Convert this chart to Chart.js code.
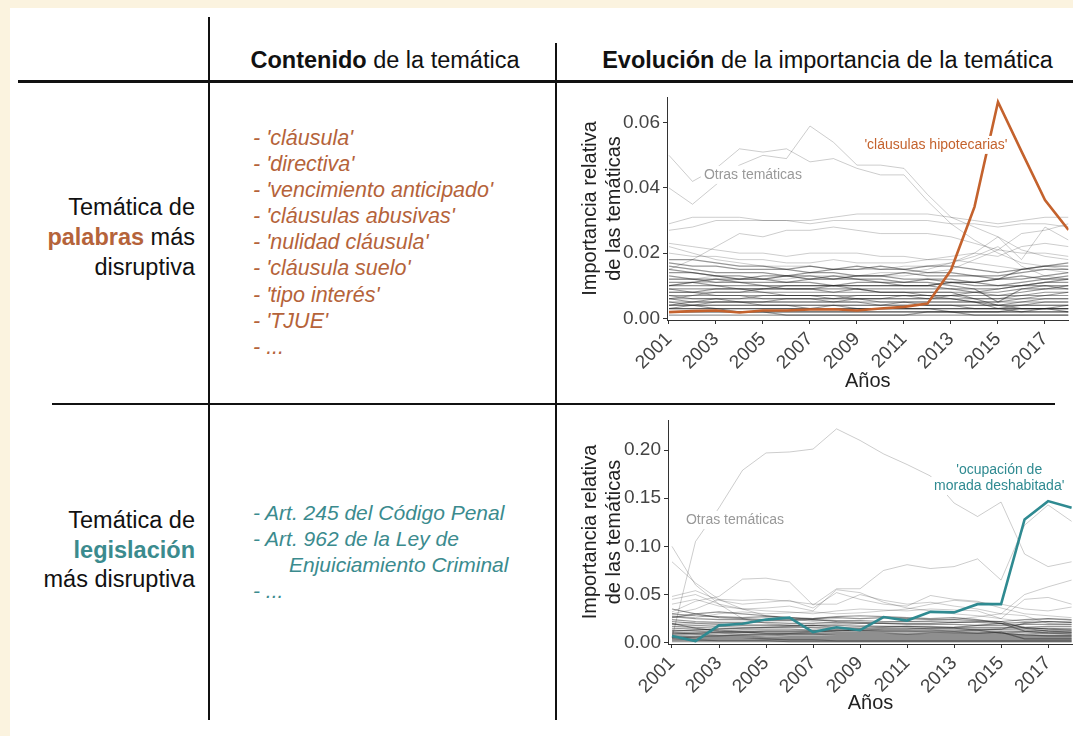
<!DOCTYPE html>
<html><head><meta charset="utf-8">
<script src="https://cdn.jsdelivr.net/npm/chart.js@4.4.1/dist/chart.umd.min.js"></script>
<style>
html,body{margin:0;padding:0;}
body{width:1073px;height:736px;background:#fbf3df;position:relative;overflow:hidden;font-family:"Liberation Sans",Arial,sans-serif;color:#111;}
#panel{position:absolute;left:10px;top:8px;right:0;bottom:0;background:#fff;}
.abs{position:absolute;white-space:nowrap;}
.line{position:absolute;background:#111;}
.hdr{font-size:23.5px;top:44px;line-height:32px;}
.rowlab{font-size:23.5px;line-height:30px;text-align:right;right:878px;}
.list{font-size:21px;font-style:italic;left:253px;}
.orange{color:#b5633a;}
.teal{color:#3b8b8e;}
canvas{position:absolute;}
</style>
</head><body>
<div id="panel"></div>
<div class="line" style="left:208px;top:17px;width:2px;height:703px;"></div>
<div class="line" style="left:555px;top:43px;width:1.5px;height:677px;"></div>
<div class="line" style="left:18px;top:80px;width:1055px;height:3px;"></div>
<div class="line" style="left:52px;top:403px;width:1003px;height:2px;"></div>

<div class="abs hdr" style="left:212px;width:346px;text-align:center;"><b>Contenido</b> de la temática</div>
<div class="abs hdr" style="left:586px;width:483px;text-align:center;"><b>Evolución</b> de la importancia de la temática</div>

<div class="abs rowlab" style="top:192px;">Temática de<br><b class="orange">palabras</b> más<br>disruptiva</div>
<div class="abs rowlab" style="top:506px;line-height:29.5px;">Temática de<br><b class="teal">legislación</b><br>más disruptiva</div>

<div class="abs list orange" style="top:125px;line-height:26.1px;font-size:21.5px;">
- 'cláusula'<br>- 'directiva'<br>- 'vencimiento anticipado'<br>- 'cláusulas abusivas'<br>- 'nulidad cláusula'<br>- 'cláusula suelo'<br>- 'tipo interés'<br>- 'TJUE'<br>- ...
</div>
<div class="abs list teal" style="top:500px;line-height:26px;">
- Art. 245 del Código Penal<br>- Art. 962 de la Ley de<br><span style="padding-left:36px">Enjuiciamiento Criminal</span><br>- ...
</div>

<canvas id="c1" width="513" height="310" style="left:560px;top:90px;"></canvas>
<canvas id="c2" width="513" height="326" style="left:560px;top:410px;"></canvas>

<script>
// ---------- DATA ----------
const years = [2001,2002,2003,2004,2005,2006,2007,2008,2009,2010,2011,2012,2013,2014,2015,2016,2017,2018];
const xTickYears = [2001,2003,2005,2007,2009,2011,2013,2015,2017];
const yTicksPalabras = [0.00,0.02,0.04,0.06];
const yTicksLegislacion = [0.00,0.05,0.10,0.15,0.20];

const clausulasHipotecarias = [0.0019,0.0022,0.0024,0.0018,0.0024,0.0024,0.0027,0.0028,0.0024,0.0030,0.0035,0.0045,0.0148,0.0342,0.0664,0.0512,0.0363,0.0271];
const ocupacionMorada = [0.0069,0.0017,0.018,0.0197,0.024,0.026,0.011,0.016,0.013,0.0266,0.023,0.032,0.0315,0.040,0.040,0.128,0.147,0.140];

// other topics (words) – sparse, higher lines
const otrasPalabrasAltas = [
 [0.050,0.042,0.046,0.052,0.051,0.052,0.048,0.049,0.046,0.044,0.044,0.036,0.029,0.024,0.020,0.017,0.016,0.015],
 [0.040,0.035,0.041,0.047,0.050,0.049,0.059,0.054,0.047,0.047,0.046,0.038,0.031,0.028,0.025,0.021,0.019,0.018],
 [0.029,0.031,0.031,0.031,0.030,0.030,0.030,0.031,0.032,0.032,0.032,0.032,0.031,0.030,0.029,0.030,0.031,0.031],
 [0.027,0.028,0.030,0.030,0.030,0.030,0.029,0.030,0.030,0.030,0.030,0.030,0.029,0.029,0.028,0.029,0.029,0.028],
 [0.015,0.018,0.022,0.026,0.025,0.027,0.027,0.028,0.027,0.026,0.026,0.026,0.025,0.023,0.021,0.020,0.020,0.019],
 [0.023,0.022,0.021,0.020,0.020,0.019,0.020,0.020,0.020,0.019,0.019,0.018,0.018,0.017,0.016,0.015,0.015,0.014],
 [0.010,0.011,0.011,0.012,0.012,0.012,0.013,0.013,0.013,0.014,0.014,0.015,0.017,0.020,0.025,0.018,0.028,0.024],
 [0.012,0.012,0.013,0.012,0.012,0.013,0.012,0.012,0.013,0.013,0.013,0.014,0.015,0.018,0.021,0.026,0.027,0.029],
 [0.020,0.019,0.019,0.018,0.018,0.017,0.017,0.018,0.017,0.017,0.017,0.018,0.019,0.020,0.019,0.022,0.023,0.022],
 [0.022,0.020,0.018,0.017,0.016,0.016,0.016,0.015,0.015,0.015,0.016,0.016,0.017,0.019,0.022,0.016,0.013,0.012]
];
// other topics (words) – dense bundle
const otrasPalabrasBajas = [
 [0.018,0.018,0.017,0.016,0.016,0.015,0.016,0.015,0.016,0.015,0.015,0.016,0.016,0.015,0.014,0.015,0.016,0.016],
 [0.017,0.016,0.016,0.015,0.015,0.015,0.014,0.015,0.015,0.016,0.015,0.014,0.014,0.013,0.013,0.014,0.015,0.015],
 [0.016,0.015,0.014,0.014,0.014,0.013,0.014,0.014,0.013,0.013,0.014,0.013,0.013,0.013,0.012,0.012,0.013,0.014],
 [0.015,0.014,0.013,0.013,0.012,0.013,0.013,0.012,0.013,0.013,0.012,0.012,0.012,0.011,0.012,0.013,0.012,0.013],
 [0.014,0.014,0.013,0.012,0.012,0.011,0.012,0.012,0.012,0.011,0.011,0.012,0.011,0.011,0.010,0.011,0.012,0.012],
 [0.013,0.012,0.012,0.011,0.011,0.011,0.011,0.010,0.011,0.011,0.010,0.010,0.011,0.010,0.010,0.010,0.011,0.011],
 [0.012,0.012,0.011,0.011,0.010,0.010,0.010,0.010,0.010,0.010,0.010,0.010,0.009,0.009,0.009,0.010,0.010,0.010],
 [0.011,0.011,0.010,0.010,0.010,0.009,0.009,0.010,0.009,0.009,0.009,0.009,0.009,0.008,0.008,0.009,0.009,0.010],
 [0.010,0.010,0.010,0.009,0.009,0.009,0.009,0.008,0.009,0.008,0.008,0.008,0.008,0.008,0.007,0.008,0.009,0.009],
 [0.009,0.009,0.009,0.009,0.008,0.008,0.008,0.008,0.008,0.008,0.008,0.007,0.007,0.007,0.007,0.007,0.008,0.008],
 [0.009,0.008,0.008,0.008,0.008,0.007,0.007,0.007,0.007,0.007,0.007,0.007,0.007,0.006,0.006,0.007,0.007,0.008],
 [0.008,0.008,0.007,0.007,0.007,0.007,0.007,0.007,0.006,0.006,0.007,0.006,0.006,0.006,0.006,0.006,0.007,0.007],
 [0.007,0.007,0.007,0.007,0.006,0.006,0.006,0.006,0.006,0.006,0.006,0.006,0.006,0.005,0.005,0.006,0.006,0.006],
 [0.007,0.006,0.006,0.006,0.006,0.006,0.006,0.005,0.006,0.005,0.005,0.005,0.005,0.005,0.005,0.005,0.006,0.006],
 [0.006,0.006,0.006,0.005,0.005,0.005,0.005,0.005,0.005,0.005,0.005,0.005,0.005,0.005,0.004,0.005,0.005,0.005],
 [0.006,0.005,0.005,0.005,0.005,0.005,0.005,0.005,0.005,0.004,0.005,0.004,0.004,0.004,0.004,0.004,0.005,0.005],
 [0.005,0.005,0.005,0.005,0.004,0.004,0.004,0.004,0.004,0.004,0.004,0.004,0.004,0.004,0.004,0.004,0.004,0.004],
 [0.005,0.004,0.004,0.004,0.004,0.004,0.004,0.004,0.004,0.004,0.004,0.004,0.004,0.003,0.003,0.004,0.004,0.004],
 [0.004,0.004,0.004,0.004,0.004,0.004,0.003,0.004,0.003,0.003,0.003,0.003,0.003,0.003,0.003,0.003,0.003,0.004],
 [0.004,0.004,0.003,0.003,0.003,0.003,0.003,0.003,0.003,0.003,0.003,0.003,0.003,0.003,0.003,0.003,0.003,0.003],
 [0.003,0.003,0.003,0.003,0.003,0.003,0.003,0.003,0.003,0.003,0.003,0.003,0.002,0.002,0.002,0.003,0.003,0.003],
 [0.003,0.003,0.003,0.002,0.002,0.002,0.002,0.002,0.002,0.002,0.002,0.002,0.002,0.002,0.002,0.002,0.002,0.002],
 [0.002,0.002,0.002,0.002,0.002,0.002,0.002,0.002,0.002,0.002,0.002,0.002,0.002,0.002,0.002,0.002,0.002,0.002],
 [0.002,0.002,0.002,0.002,0.002,0.001,0.001,0.001,0.001,0.001,0.001,0.002,0.002,0.001,0.001,0.001,0.001,0.001],
 [0.001,0.001,0.001,0.001,0.001,0.001,0.001,0.001,0.001,0.001,0.001,0.001,0.001,0.001,0.001,0.001,0.001,0.001],
 [0.010,0.011,0.012,0.012,0.013,0.013,0.012,0.013,0.012,0.012,0.011,0.011,0.010,0.009,0.005,0.009,0.010,0.009],
 [0.003,0.004,0.005,0.005,0.005,0.006,0.006,0.006,0.006,0.006,0.006,0.006,0.007,0.008,0.009,0.010,0.011,0.012],
 [0.006,0.007,0.008,0.008,0.009,0.009,0.009,0.009,0.009,0.008,0.008,0.008,0.008,0.006,0.004,0.003,0.003,0.003],
 [0.004,0.005,0.006,0.006,0.007,0.007,0.007,0.006,0.007,0.007,0.007,0.007,0.006,0.005,0.003,0.002,0.003,0.002],
 [0.008,0.008,0.009,0.009,0.009,0.010,0.010,0.010,0.010,0.010,0.010,0.010,0.011,0.011,0.012,0.015,0.016,0.017]
];

// other topics (legislation) – sparse, higher lines
const otrasLeyesAltas = [
 [0.005,0.105,0.140,0.179,0.197,0.198,0.201,0.222,0.210,0.196,0.185,0.173,0.145,0.131,0.146,0.092,0.079,0.084],
 [0.032,0.043,0.048,0.066,0.067,0.063,0.039,0.056,0.056,0.075,0.081,0.077,0.079,0.087,0.065,0.122,0.143,0.126],
 [0.100,0.060,0.040,0.025,0.020,0.018,0.015,0.014,0.013,0.012,0.012,0.011,0.010,0.010,0.011,0.012,0.012,0.011],
 [0.084,0.062,0.045,0.035,0.028,0.025,0.022,0.020,0.018,0.017,0.016,0.015,0.015,0.014,0.014,0.015,0.015,0.014],
 [0.020,0.021,0.020,0.019,0.019,0.018,0.018,0.019,0.020,0.021,0.022,0.023,0.024,0.027,0.030,0.050,0.058,0.065],
 [0.045,0.050,0.040,0.035,0.033,0.032,0.030,0.033,0.035,0.034,0.033,0.035,0.034,0.033,0.025,0.045,0.047,0.040],
 [0.048,0.054,0.044,0.040,0.042,0.044,0.036,0.052,0.045,0.040,0.038,0.049,0.045,0.043,0.036,0.030,0.028,0.026],
 [0.030,0.035,0.045,0.044,0.045,0.043,0.040,0.040,0.050,0.044,0.040,0.042,0.038,0.035,0.030,0.028,0.020,0.019],
 [0.040,0.045,0.038,0.035,0.036,0.038,0.033,0.055,0.052,0.042,0.036,0.033,0.030,0.028,0.025,0.022,0.025,0.023],
 [0.028,0.026,0.030,0.032,0.030,0.031,0.032,0.030,0.031,0.033,0.035,0.040,0.044,0.042,0.040,0.035,0.033,0.037]
];
// other topics (legislation) – dense bundle
const otrasLeyesBajas = [
 [0.030,0.028,0.027,0.026,0.027,0.026,0.025,0.026,0.025,0.026,0.025,0.024,0.024,0.023,0.022,0.024,0.025,0.024],
 [0.027,0.025,0.024,0.024,0.023,0.023,0.024,0.023,0.023,0.022,0.022,0.022,0.021,0.021,0.020,0.021,0.022,0.021],
 [0.024,0.022,0.021,0.021,0.021,0.020,0.020,0.021,0.020,0.020,0.019,0.019,0.019,0.018,0.018,0.019,0.019,0.019],
 [0.022,0.020,0.019,0.018,0.018,0.018,0.018,0.018,0.017,0.017,0.017,0.017,0.016,0.016,0.016,0.016,0.017,0.017],
 [0.019,0.018,0.017,0.016,0.016,0.016,0.016,0.015,0.015,0.015,0.015,0.014,0.014,0.014,0.014,0.014,0.015,0.015],
 [0.017,0.016,0.015,0.014,0.014,0.014,0.013,0.013,0.013,0.013,0.013,0.013,0.012,0.012,0.012,0.012,0.013,0.013],
 [0.015,0.014,0.013,0.012,0.012,0.012,0.012,0.011,0.011,0.011,0.011,0.011,0.011,0.010,0.010,0.011,0.011,0.011],
 [0.013,0.012,0.011,0.011,0.010,0.010,0.010,0.010,0.010,0.010,0.009,0.009,0.009,0.009,0.009,0.009,0.010,0.010],
 [0.011,0.010,0.010,0.009,0.009,0.009,0.009,0.008,0.008,0.008,0.008,0.008,0.008,0.008,0.008,0.008,0.008,0.008],
 [0.010,0.009,0.008,0.008,0.008,0.007,0.007,0.007,0.007,0.007,0.007,0.007,0.007,0.007,0.007,0.007,0.007,0.007],
 [0.008,0.008,0.007,0.007,0.006,0.006,0.006,0.006,0.006,0.006,0.006,0.006,0.006,0.006,0.006,0.006,0.006,0.006],
 [0.007,0.006,0.006,0.006,0.005,0.005,0.005,0.005,0.005,0.005,0.005,0.005,0.005,0.005,0.005,0.005,0.005,0.005],
 [0.006,0.005,0.005,0.005,0.004,0.004,0.004,0.004,0.004,0.004,0.004,0.004,0.004,0.004,0.004,0.004,0.004,0.004],
 [0.005,0.004,0.004,0.004,0.004,0.003,0.003,0.003,0.003,0.003,0.003,0.003,0.003,0.003,0.003,0.003,0.003,0.003],
 [0.004,0.003,0.003,0.003,0.003,0.003,0.003,0.002,0.002,0.002,0.002,0.002,0.002,0.002,0.002,0.002,0.002,0.002],
 [0.003,0.003,0.002,0.002,0.002,0.002,0.002,0.002,0.002,0.002,0.002,0.002,0.002,0.002,0.002,0.002,0.002,0.002],
 [0.002,0.002,0.002,0.002,0.002,0.001,0.001,0.001,0.001,0.001,0.001,0.001,0.001,0.001,0.001,0.001,0.001,0.001],
 [0.001,0.001,0.001,0.001,0.001,0.001,0.001,0.001,0.001,0.001,0.001,0.001,0.001,0.001,0.001,0.001,0.001,0.001],
 [0.012,0.013,0.014,0.015,0.016,0.017,0.018,0.016,0.015,0.016,0.017,0.016,0.015,0.013,0.010,0.008,0.007,0.007],
 [0.020,0.015,0.012,0.011,0.010,0.010,0.011,0.012,0.013,0.014,0.014,0.015,0.016,0.018,0.020,0.012,0.010,0.009],
 [0.009,0.010,0.011,0.011,0.012,0.012,0.012,0.013,0.012,0.012,0.012,0.012,0.012,0.013,0.014,0.020,0.022,0.021],
 [0.035,0.030,0.026,0.025,0.024,0.024,0.025,0.027,0.028,0.027,0.026,0.025,0.026,0.024,0.020,0.016,0.014,0.013],
 [0.005,0.006,0.007,0.008,0.008,0.009,0.009,0.009,0.009,0.009,0.009,0.010,0.010,0.010,0.011,0.004,0.004,0.004],
 [0.026,0.030,0.032,0.030,0.028,0.026,0.024,0.022,0.021,0.020,0.020,0.020,0.021,0.022,0.022,0.015,0.012,0.011]
];

// ---------- CHARTS ----------
const FAMILY = '"Liberation Sans", Arial, sans-serif';
Chart.defaults.font.family = FAMILY;

const annotPlugin = {
  id: 'annot',
  afterDatasetsDraw(chart, args, opts) {
    const {ctx} = chart;
    const xs = chart.scales.x, ys = chart.scales.y;
    (opts.items || []).forEach(it => {
      ctx.save();
      ctx.font = '14px ' + FAMILY;
      ctx.textAlign = 'center';
      ctx.textBaseline = 'middle';
      const cx = xs.getPixelForValue(it.x);
      const cy0 = ys.getPixelForValue(it.y);
      const pos = it.lines.map((t, i) => cy0 + (i - (it.lines.length - 1) / 2) * 16);
      ctx.fillStyle = '#ffffff';
      it.lines.forEach((t, i) => {
        const w = ctx.measureText(t).width;
        ctx.fillRect(cx - w / 2 - 3, pos[i] - 9, w + 6, 18);
      });
      ctx.fillStyle = it.color;
      it.lines.forEach((t, i) => ctx.fillText(t, cx, pos[i]));
      ctx.restore();
    });
  }
};

function makeChart(id, cfg) {
  const datasets = [];
  datasets.push({data: cfg.main, borderColor: cfg.mainColor, borderWidth: 2.6, pointRadius: 0, tension: 0});
  cfg.high.forEach(d => datasets.push({data: d, borderColor: 'rgba(0,0,0,0.2)', borderWidth: 1, pointRadius: 0, tension: 0}));
  cfg.low.forEach(d => datasets.push({data: d, borderColor: 'rgba(25,25,25,0.45)', borderWidth: 1.2, pointRadius: 0, tension: 0}));
  return new Chart(document.getElementById(id), {
    type: 'line',
    data: {labels: years, datasets},
    options: {
      responsive: false, animation: false, devicePixelRatio: 1,
      layout: {padding: {top: cfg.padTop, right: cfg.padRight, left: 0, bottom: 0}},
      plugins: {legend: {display: false}, tooltip: {enabled: false}, annot: {items: cfg.labels}},
      scales: {
        x: {
          type: 'linear', min: cfg.xMin, max: cfg.xMax,
          afterBuildTicks: s => { s.ticks = xTickYears.map(v => ({value: v})); },
          afterFit: s => { s.height = cfg.xHeight; s.paddingLeft = 0; s.paddingRight = 0; },
          ticks: {minRotation: 45, maxRotation: 45, autoSkip: false, color: '#444', padding: 4,
                  font: {size: 19}, callback: v => String(v)},
          grid: {drawOnChartArea: false, drawTicks: true, tickLength: 4, color: '#333', lineWidth: 1},
          border: {display: true, color: '#333', width: 1},
          title: {display: true, text: 'Años', color: '#222', font: {size: 20}, padding: {top: 0, bottom: cfg.xTitlePad}}
        },
        y: {
          min: cfg.yMin, max: cfg.yMax,
          afterBuildTicks: s => { s.ticks = cfg.yTicks.map(v => ({value: v})); },
          afterFit: s => { s.width = cfg.yWidth; s.paddingTop = 0; s.paddingBottom = 0; },
          ticks: {color: '#444', padding: 3, font: {size: 19}, callback: v => v.toFixed(2)},
          grid: {drawOnChartArea: false, drawTicks: true, tickLength: 4, color: '#333', lineWidth: 1},
          border: {display: true, color: '#333', width: 1},
          title: {display: true, text: ['Importancia relativa', 'de las temáticas'], color: '#222',
                  font: {size: 20, lineHeight: 1.2}, padding: {top: 18, bottom: 0}}
        }
      }
    },
    plugins: [annotPlugin]
  });
}

makeChart('c1', {
  main: clausulasHipotecarias, mainColor: '#c4622d',
  high: otrasPalabrasAltas, low: otrasPalabrasBajas,
  padTop: 7, padRight: 4.5, xHeight: 80, xTitlePad: 7, yWidth: 107,
  xMin: 2000.915, xMax: 2018, yMin: -0.00052, yMax: 0.0679, yTicks: yTicksPalabras,
  labels: [
    {x: 2004.57, y: 0.044, lines: ['Otras temáticas'], color: '#999'},
    {x: 2012.36, y: 0.0532, lines: ["'cláusulas hipotecarias'"], color: '#c4622d'}
  ]
});

makeChart('c2', {
  main: ocupacionMorada, mainColor: '#2f8a91',
  high: otrasLeyesAltas, low: otrasLeyesBajas,
  padTop: 10, padRight: 0, xHeight: 92, xTitlePad: 21, yWidth: 108,
  xMin: 2000.83, xMax: 2018.06, yMin: -0.00135, yMax: 0.2312, yTicks: yTicksLegislacion,
  labels: [
    {x: 2003.68, y: 0.1274, lines: ['Otras temáticas'], color: '#999'},
    {x: 2014.92, y: 0.171, lines: ["'ocupación de", "morada deshabitada'"], color: '#2f8a91'}
  ]
});
</script>
</body></html>
